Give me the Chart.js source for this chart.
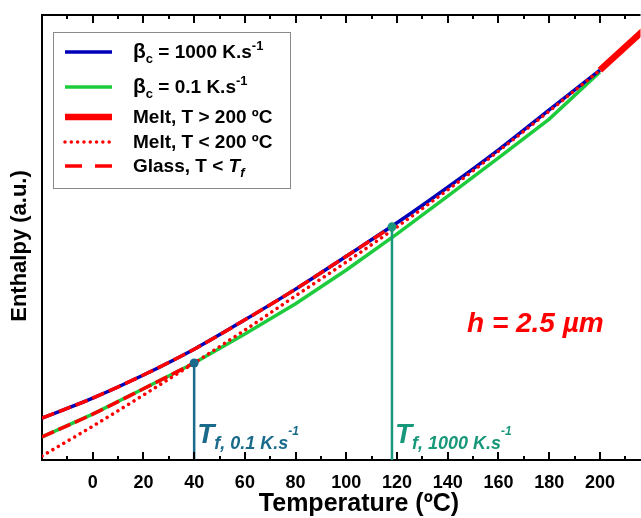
<!DOCTYPE html>
<html lang="en">
<head>
<meta charset="UTF-8">
<title>Enthalpy vs Temperature</title>
<script src="https://cdn.jsdelivr.net/npm/chart.js"></script>
<style>
    html, body { margin: 0; padding: 0; background: #fff; overflow: hidden; }
    .chart-box { position: relative; width: 645px; height: 518px; }
</style>
</head>
<body>
<div class="chart-box"><canvas id="enthalpyChart"></canvas></div>
<script>
// Temperature grid (ºC)
const temps = [-20, 0, 20, 40, 60, 80, 100, 120, 140, 160, 180, 200];
// Enthalpy (a.u.)
const fastCooling = [9.4, 13.9, 19.1, 24.9, 31.5, 38.4, 45.8, 53.3, 61.3, 69.7, 78.7, 87.6];  // beta_c = 1000 K/s
const slowCooling = [5.2, 10.3, 16.0, 21.8, 28.3, 35.1, 42.7, 50.8, 59.3, 67.9, 76.6, 87.2];  // beta_c = 0.1 K/s
const meltLow = [0.9, 7.6, 14.6, 21.8, 29.2, 36.9, 44.5, 52.4, 60.7, 69.4, 78.4, 87.6];       // melt, T < 200
const meltHighTemps = [200, 220];
const meltHigh = [87.6, 98.0];                                                               // melt, T > 200
const glassFastTemps = [-20, 0, 20, 40, 60, 80, 100, 118];
const glassFast = [9.4, 13.9, 19.1, 24.9, 31.5, 38.4, 45.8, 52.4];
const glassSlowTemps = [-20, 0, 20, 40];
const glassSlow = [5.2, 10.3, 16.0, 21.8];
// Fictive temperatures
const tfTemps = [40, 118];
const tfEnthalpy = [21.8, 52.4];
const tfNames = ['0.1 K.s', '1000 K.s'];
// Axis ticks
const xTicks = [0, 20, 40, 60, 80, 100, 120, 140, 160, 180, 200];
const xMinorTicks = [-10, 10, 30, 50, 70, 90, 110, 130, 150, 170, 190, 210];

const BLUE = '#0000b8';
const GREEN = '#1ecb3c';
const RED = '#ff0000';
const TF_COLORS = ['#1a6a8c', '#17987a'];
const FONT = '"Liberation Sans", Arial, sans-serif';

function pts(xs, ys) {
    return xs.map((x, i) => ({ x: x, y: ys[i] }));
}

function font(size, italic) {
    return (italic ? 'italic ' : '') + 'bold ' + size + 'px ' + FONT;
}

// text with sub/superscripts
function drawRich(ctx, x, y, parts, color) {
    ctx.fillStyle = color;
    ctx.textAlign = 'left';
    ctx.textBaseline = 'alphabetic';
    parts.forEach(p => {
        ctx.font = font(p.size, p.italic);
        ctx.fillText(p.text, x, y + (p.dy || 0));
        x += ctx.measureText(p.text).width;
    });
}

const legendItems = [
    { color: BLUE, width: 3.5, dash: [], y: 52, base: 58,
      parts: [{ text: 'β', size: 21 }, { text: 'c', size: 13, dy: 5 }, { text: ' = 1000 K.s', size: 19 }, { text: '-1', size: 13, dy: -8 }] },
    { color: GREEN, width: 3.5, dash: [], y: 87, base: 93,
      parts: [{ text: 'β', size: 21 }, { text: 'c', size: 13, dy: 5 }, { text: ' = 0.1 K.s', size: 19 }, { text: '-1', size: 13, dy: -8 }] },
    { color: RED, width: 6.5, dash: [], y: 117, base: 123,
      parts: [{ text: 'Melt, T > 200 ºC', size: 19 }] },
    { color: RED, width: 3.5, dash: [0.01, 6.3], cap: 'round', y: 142, base: 148,
      parts: [{ text: 'Melt, T < 200 ºC', size: 19 }] },
    { color: RED, width: 3.5, dash: [17, 13], y: 166, base: 172,
      parts: [{ text: 'Glass, T < ', size: 19 }, { text: 'T', size: 19, italic: true }, { text: 'f', size: 13, italic: true, dy: 5 }] }
];

const decorations = {
    id: 'decorations',
    afterDraw(chart) {
        const ctx = chart.ctx;
        const area = chart.chartArea;
        const xs = chart.scales.x;
        ctx.save();

        // top frame line and inward ticks
        ctx.strokeStyle = '#000';
        ctx.lineWidth = 2;
        ctx.beginPath();
        ctx.moveTo(area.left - 1, area.top);
        ctx.lineTo(area.right, area.top);
        const tick = (v, len) => {
            const px = Math.round(xs.getPixelForValue(v));
            if (px < area.left || px > area.right) return;
            ctx.moveTo(px, area.bottom);
            ctx.lineTo(px, area.bottom - len);
            ctx.moveTo(px, area.top);
            ctx.lineTo(px, area.top + len);
        };
        xTicks.forEach(v => tick(v, 8));
        xMinorTicks.forEach(v => tick(v, 4));
        ctx.stroke();

        // axis titles (the original plot runs past the right edge, so the x title sits right of centre)
        ctx.fillStyle = '#000';
        ctx.textAlign = 'center';
        ctx.textBaseline = 'middle';
        ctx.font = font(25);
        ctx.fillText('Temperature (ºC)', 359, 504);
        ctx.save();
        ctx.translate(20, 246);
        ctx.rotate(-Math.PI / 2);
        ctx.font = font(22);
        ctx.fillText('Enthalpy (a.u.)', 0, 0);
        ctx.restore();

        // legend
        ctx.fillStyle = '#fff';
        ctx.fillRect(53, 32, 237, 156);
        ctx.strokeStyle = '#8a8a8a';
        ctx.lineWidth = 1;
        ctx.strokeRect(53.5, 32.5, 237, 156);
        legendItems.forEach(it => {
            ctx.strokeStyle = it.color;
            ctx.lineWidth = it.width;
            ctx.setLineDash(it.dash);
            ctx.lineCap = it.cap || 'butt';
            ctx.beginPath();
            ctx.moveTo(65, it.y);
            ctx.lineTo(112, it.y);
            ctx.stroke();
            ctx.setLineDash([]);
            ctx.lineCap = 'butt';
            drawRich(ctx, 133, it.base, it.parts, '#000');
        });

        // fictive temperature labels
        tfTemps.forEach((t, i) => {
            const px = xs.getPixelForValue(t) + 3;
            drawRich(ctx, px, 443, [
                { text: 'T', size: 28, italic: true },
                { text: 'f, ' + tfNames[i], size: 18, italic: true, dy: 6 },
                { text: '-1', size: 12, italic: true, dy: -8 }
            ], TF_COLORS[i]);
        });

        // film thickness
        drawRich(ctx, 467, 332, [{ text: 'h = 2.5 µm', size: 28, italic: true }], RED);
        ctx.restore();
    }
};

const curve = (data, color, width, order, extra) => Object.assign({
    data: data,
    borderColor: color,
    backgroundColor: color,
    borderWidth: width,
    pointRadius: 0,
    fill: false,
    order: order,
    cubicInterpolationMode: 'monotone'
}, extra || {});

const datasets = [
    curve(pts(temps, slowCooling), GREEN, 3.5, 6, { cubicInterpolationMode: 'default', tension: 0 }),
    curve(pts(temps, fastCooling), BLUE, 3.5, 5),
    curve(pts(temps, meltLow), RED, 3.5, 4, { borderDash: [0.01, 6.3], borderCapStyle: 'round' }),
    curve(pts(glassFastTemps, glassFast), RED, 3.5, 3, { borderDash: [13, 5] }),
    curve(pts(glassSlowTemps, glassSlow), RED, 3.5, 3, { borderDash: [13, 5] }),
    curve(pts(meltHighTemps, meltHigh), RED, 6.5, 2)
];
tfTemps.forEach((t, i) => {
    datasets.push({
        data: [{ x: t, y: 0 }, { x: t, y: tfEnthalpy[i] }],
        borderColor: TF_COLORS[i],
        backgroundColor: TF_COLORS[i],
        borderWidth: 2.5,
        pointRadius: [0, 4.5],
        pointBorderWidth: 0,
        order: 1
    });
});

new Chart(document.getElementById('enthalpyChart'), {
    type: 'line',
    data: { datasets: datasets },
    options: {
        responsive: true,
        maintainAspectRatio: false,
        devicePixelRatio: 1,
        animation: false,
        layout: { padding: { top: 15, right: 0, left: 0, bottom: 0 } },
        plugins: { legend: { display: false }, tooltip: { enabled: false } },
        scales: {
            x: {
                type: 'linear',
                min: -20,
                max: 216,
                grid: { display: false },
                border: { display: true, color: '#000', width: 2 },
                afterBuildTicks: s => { s.ticks = xTicks.map(v => ({ value: v })); },
                afterFit: s => { s.height = 58; },
                ticks: { color: '#000', font: { family: FONT, size: 18, weight: 'bold' }, padding: 4, maxRotation: 0 },
                title: { display: false }
            },
            y: {
                min: 0,
                max: 100,
                grid: { display: false },
                border: { display: true, color: '#000', width: 2 },
                ticks: { display: false },
                afterFit: s => { s.width = 42; },
                title: { display: false }
            }
        }
    },
    plugins: [decorations]
});
</script>
</body>
</html>
